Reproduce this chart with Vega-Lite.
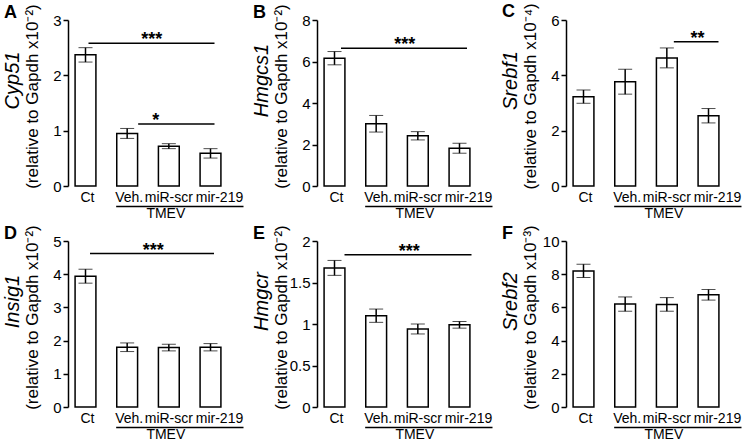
{
  "$schema": "https://vega.github.io/schema/vega-lite/v6.json",
  "padding": {"left": 2, "top": 2, "right": 2, "bottom": 0},
  "config": {
    "font": "Liberation Sans",
    "view": {"stroke": null},
    "axis": {"grid": false, "domainColor": "black", "tickColor": "black", "labelColor": "black", "titleColor": "black", "domainWidth": 1.5, "tickWidth": 1.5},
    "axisX": {"labelFontSize": 14, "labelPadding": 4, "domain": false, "ticks": false, "labelAngle": 0},
    "axisY": {"labelFontSize": 15, "labelPadding": 2, "tickSize": 5},
    "title": {"fontSize": 18, "fontWeight": "bold", "anchor": "start", "frame": "group", "color": "black", "dx": -64, "offset": -18}
  },
  "bounds": "flush",
  "columns": 3,
  "spacing": {"row": 55, "column": 89},
  "concat": [
        {
          "width": 160, "height": 166,
          "title": {"text": "A"},
          "data": {"values": [
            {"group": "Ct", "mean": 2.37, "err": 0.13},
            {"group": "Veh.", "mean": 0.95, "err": 0.09},
            {"group": "miR-scr", "mean": 0.72, "err": 0.045},
            {"group": "mir-219", "mean": 0.59, "err": 0.085}
          ]},
          "layer": [
            {"mark": {"type": "bar", "fill": "white", "stroke": "black", "strokeWidth": 1.5},
             "encoding": {
               "x": {"field": "group", "type": "nominal", "title": null, "scale": {"domain": ["Ct", "Veh.", "miR-scr", "mir-219"], "paddingInner": 0.5, "paddingOuter": 0.17},
                     "axis": {"labelFontSize": 14, "labelOffset": {"condition": [{"test": "datum.value === 'mir-219'", "value": 9}, {"test": "datum.value === 'miR-scr'", "value": 0}], "value": 2}}},
               "y": {"field": "mean", "type": "quantitative", "scale": {"domain": [0, 3]},
                     "axis": {"orient": "left", "values": [0, 1, 2, 3], "format": "~r", "labelFontSize": 15, "title": "(relative to Gapdh x10⁻²)", "titleFontSize": 17, "titleFontWeight": "normal", "titleAngle": -90, "titleX": -31, "titleY": 76, "titleBaseline": "alphabetic", "titleAlign": "center"}}
             }},
            {"mark": {"type": "errorbar", "ticks": {"size": 14, "color": "black", "strokeWidth": 1.5}, "rule": {"color": "black", "strokeWidth": 1.5}},
             "encoding": {
               "x": {"field": "group", "type": "nominal", "title": null},
               "y": {"field": "mean", "type": "quantitative", "axis": null},
               "yError": {"field": "err"}
             }},
            {"data": {"values": [{"from": "Ct", "to": "mir-219", "y": 2.58}]},
             "mark": {"type": "rule", "color": "black", "strokeWidth": 1.5, "xOffset": 3, "x2Offset": 4},
             "encoding": {"x": {"field": "from", "type": "nominal", "title": null}, "x2": {"field": "to"}, "y": {"field": "y", "type": "quantitative", "axis": null}}},
            {"data": {"values": [{"from": "Veh.", "to": "mir-219", "y": 1.12}]},
             "mark": {"type": "rule", "color": "black", "strokeWidth": 1.5, "xOffset": 11, "x2Offset": 4},
             "encoding": {"x": {"field": "from", "type": "nominal", "title": null}, "x2": {"field": "to"}, "y": {"field": "y", "type": "quantitative", "axis": null}}},
            {"data": {"values": [{"at": "miR-scr", "y": 2.58, "label": "***"}]},
             "mark": {"type": "text", "fontSize": 18, "fontWeight": "bold", "baseline": "alphabetic", "dy": 2, "dx": -17, "color": "black"},
             "encoding": {"x": {"field": "at", "type": "nominal", "title": null}, "y": {"field": "y", "type": "quantitative", "axis": null}, "text": {"field": "label"}}},
            {"data": {"values": [{"at": "miR-scr", "y": 1.12, "label": "*"}]},
             "mark": {"type": "text", "fontSize": 18, "fontWeight": "bold", "baseline": "alphabetic", "dy": 2, "dx": -13, "color": "black"},
             "encoding": {"x": {"field": "at", "type": "nominal", "title": null}, "y": {"field": "y", "type": "quantitative", "axis": null}, "text": {"field": "label"}}},
            {"data": {"values": [{"from": "Veh.", "to": "mir-219"}]},
             "mark": {"type": "rule", "color": "black", "strokeWidth": 1.5, "xOffset": -11, "x2Offset": 33, "yOffset": 20.5},
             "encoding": {"x": {"field": "from", "type": "nominal", "title": null}, "x2": {"field": "to"},
                          "y": {"datum": 0, "type": "quantitative", "axis": {"orient": "left", "domain": false, "ticks": false, "labels": false, "title": "Cyp51", "titleFontSize": 20, "titleFontStyle": "italic", "titleFontWeight": "normal", "titleAngle": -90, "titleX": -50, "titleY": 60, "titleBaseline": "alphabetic", "titleAlign": "center"}}}},
            {"data": {"values": [{"at": "miR-scr", "label": "TMEV"}]},
             "mark": {"type": "text", "fontSize": 14, "baseline": "alphabetic", "yOffset": 32, "dx": -3, "color": "black"},
             "encoding": {"x": {"field": "at", "type": "nominal", "title": null}, "y": {"datum": 0, "type": "quantitative", "axis": null}, "text": {"field": "label"}}}
          ],
          "resolve": {"axis": {"y": "independent"}}
        },
        {
          "width": 160, "height": 166,
          "title": {"text": "B"},
          "data": {"values": [
            {"group": "Ct", "mean": 6.16, "err": 0.32},
            {"group": "Veh.", "mean": 3.0, "err": 0.4},
            {"group": "miR-scr", "mean": 2.42, "err": 0.2},
            {"group": "mir-219", "mean": 1.82, "err": 0.24}
          ]},
          "layer": [
            {"mark": {"type": "bar", "fill": "white", "stroke": "black", "strokeWidth": 1.5},
             "encoding": {
               "x": {"field": "group", "type": "nominal", "title": null, "scale": {"domain": ["Ct", "Veh.", "miR-scr", "mir-219"], "paddingInner": 0.5, "paddingOuter": 0.17},
                     "axis": {"labelFontSize": 14, "labelOffset": {"condition": [{"test": "datum.value === 'mir-219'", "value": 9}, {"test": "datum.value === 'miR-scr'", "value": 0}], "value": 2}}},
               "y": {"field": "mean", "type": "quantitative", "scale": {"domain": [0, 8]},
                     "axis": {"orient": "left", "values": [0, 2, 4, 6, 8], "format": "~r", "labelFontSize": 15, "title": "(relative to Gapdh x10⁻²)", "titleFontSize": 17, "titleFontWeight": "normal", "titleAngle": -90, "titleX": -31, "titleY": 76, "titleBaseline": "alphabetic", "titleAlign": "center"}}
             }},
            {"mark": {"type": "errorbar", "ticks": {"size": 14, "color": "black", "strokeWidth": 1.5}, "rule": {"color": "black", "strokeWidth": 1.5}},
             "encoding": {
               "x": {"field": "group", "type": "nominal", "title": null},
               "y": {"field": "mean", "type": "quantitative", "axis": null},
               "yError": {"field": "err"}
             }},
            {"data": {"values": [{"from": "Ct", "to": "mir-219", "y": 6.64}]},
             "mark": {"type": "rule", "color": "black", "strokeWidth": 1.5, "xOffset": 6.5, "x2Offset": 7.5},
             "encoding": {"x": {"field": "from", "type": "nominal", "title": null}, "x2": {"field": "to"}, "y": {"field": "y", "type": "quantitative", "axis": null}}},
            {"data": {"values": [{"at": "miR-scr", "y": 6.64, "label": "***"}]},
             "mark": {"type": "text", "fontSize": 18, "fontWeight": "bold", "baseline": "alphabetic", "dy": 2, "dx": -13, "color": "black"},
             "encoding": {"x": {"field": "at", "type": "nominal", "title": null}, "y": {"field": "y", "type": "quantitative", "axis": null}, "text": {"field": "label"}}},
            {"data": {"values": [{"from": "Veh.", "to": "mir-219"}]},
             "mark": {"type": "rule", "color": "black", "strokeWidth": 1.5, "xOffset": -11, "x2Offset": 33, "yOffset": 20.5},
             "encoding": {"x": {"field": "from", "type": "nominal", "title": null}, "x2": {"field": "to"},
                          "y": {"datum": 0, "type": "quantitative", "axis": {"orient": "left", "domain": false, "ticks": false, "labels": false, "title": "Hmgcs1", "titleFontSize": 20, "titleFontStyle": "italic", "titleFontWeight": "normal", "titleAngle": -90, "titleX": -50, "titleY": 60, "titleBaseline": "alphabetic", "titleAlign": "center"}}}},
            {"data": {"values": [{"at": "miR-scr", "label": "TMEV"}]},
             "mark": {"type": "text", "fontSize": 14, "baseline": "alphabetic", "yOffset": 32, "dx": -3, "color": "black"},
             "encoding": {"x": {"field": "at", "type": "nominal", "title": null}, "y": {"datum": 0, "type": "quantitative", "axis": null}, "text": {"field": "label"}}}
          ],
          "resolve": {"axis": {"y": "independent"}}
        },
        {
          "width": 160, "height": 166,
          "title": {"text": "C"},
          "data": {"values": [
            {"group": "Ct", "mean": 3.23, "err": 0.24},
            {"group": "Veh.", "mean": 3.77, "err": 0.45},
            {"group": "miR-scr", "mean": 4.63, "err": 0.36},
            {"group": "mir-219", "mean": 2.54, "err": 0.26}
          ]},
          "layer": [
            {"mark": {"type": "bar", "fill": "white", "stroke": "black", "strokeWidth": 1.5},
             "encoding": {
               "x": {"field": "group", "type": "nominal", "title": null, "scale": {"domain": ["Ct", "Veh.", "miR-scr", "mir-219"], "paddingInner": 0.5, "paddingOuter": 0.17},
                     "axis": {"labelFontSize": 14, "labelOffset": {"condition": [{"test": "datum.value === 'mir-219'", "value": 9}, {"test": "datum.value === 'miR-scr'", "value": 0}], "value": 2}}},
               "y": {"field": "mean", "type": "quantitative", "scale": {"domain": [0, 6]},
                     "axis": {"orient": "left", "values": [0, 2, 4, 6], "format": "~r", "labelFontSize": 15, "title": "(relative to Gapdh x10⁻⁴)", "titleFontSize": 17, "titleFontWeight": "normal", "titleAngle": -90, "titleX": -31, "titleY": 76, "titleBaseline": "alphabetic", "titleAlign": "center"}}
             }},
            {"mark": {"type": "errorbar", "ticks": {"size": 14, "color": "black", "strokeWidth": 1.5}, "rule": {"color": "black", "strokeWidth": 1.5}},
             "encoding": {
               "x": {"field": "group", "type": "nominal", "title": null},
               "y": {"field": "mean", "type": "quantitative", "axis": null},
               "yError": {"field": "err"}
             }},
            {"data": {"values": [{"from": "miR-scr", "to": "mir-219", "y": 5.21}]},
             "mark": {"type": "rule", "color": "black", "strokeWidth": 1.5, "xOffset": 7, "x2Offset": 10},
             "encoding": {"x": {"field": "from", "type": "nominal", "title": null}, "x2": {"field": "to"}, "y": {"field": "y", "type": "quantitative", "axis": null}}},
            {"data": {"values": [{"at": "mir-219", "y": 5.21, "label": "**"}]},
             "mark": {"type": "text", "fontSize": 18, "fontWeight": "bold", "baseline": "alphabetic", "dy": 2, "dx": -11, "color": "black"},
             "encoding": {"x": {"field": "at", "type": "nominal", "title": null}, "y": {"field": "y", "type": "quantitative", "axis": null}, "text": {"field": "label"}}},
            {"data": {"values": [{"from": "Veh.", "to": "mir-219"}]},
             "mark": {"type": "rule", "color": "black", "strokeWidth": 1.5, "xOffset": -11, "x2Offset": 33, "yOffset": 20.5},
             "encoding": {"x": {"field": "from", "type": "nominal", "title": null}, "x2": {"field": "to"},
                          "y": {"datum": 0, "type": "quantitative", "axis": {"orient": "left", "domain": false, "ticks": false, "labels": false, "title": "Srebf1", "titleFontSize": 20, "titleFontStyle": "italic", "titleFontWeight": "normal", "titleAngle": -90, "titleX": -50, "titleY": 60, "titleBaseline": "alphabetic", "titleAlign": "center"}}}},
            {"data": {"values": [{"at": "miR-scr", "label": "TMEV"}]},
             "mark": {"type": "text", "fontSize": 14, "baseline": "alphabetic", "yOffset": 32, "dx": -3, "color": "black"},
             "encoding": {"x": {"field": "at", "type": "nominal", "title": null}, "y": {"datum": 0, "type": "quantitative", "axis": null}, "text": {"field": "label"}}}
          ],
          "resolve": {"axis": {"y": "independent"}}
        },
        {
          "width": 160, "height": 166,
          "title": {"text": "D"},
          "data": {"values": [
            {"group": "Ct", "mean": 3.94, "err": 0.21},
            {"group": "Veh.", "mean": 1.8, "err": 0.13},
            {"group": "miR-scr", "mean": 1.79, "err": 0.1},
            {"group": "mir-219", "mean": 1.8, "err": 0.11}
          ]},
          "layer": [
            {"mark": {"type": "bar", "fill": "white", "stroke": "black", "strokeWidth": 1.5},
             "encoding": {
               "x": {"field": "group", "type": "nominal", "title": null, "scale": {"domain": ["Ct", "Veh.", "miR-scr", "mir-219"], "paddingInner": 0.5, "paddingOuter": 0.17},
                     "axis": {"labelFontSize": 14, "labelOffset": {"condition": [{"test": "datum.value === 'mir-219'", "value": 9}, {"test": "datum.value === 'miR-scr'", "value": 0}], "value": 2}}},
               "y": {"field": "mean", "type": "quantitative", "scale": {"domain": [0, 5]},
                     "axis": {"orient": "left", "values": [0, 1, 2, 3, 4, 5], "format": "~r", "labelFontSize": 15, "title": "(relative to Gapdh x10⁻²)", "titleFontSize": 17, "titleFontWeight": "normal", "titleAngle": -90, "titleX": -31, "titleY": 76, "titleBaseline": "alphabetic", "titleAlign": "center"}}
             }},
            {"mark": {"type": "errorbar", "ticks": {"size": 14, "color": "black", "strokeWidth": 1.5}, "rule": {"color": "black", "strokeWidth": 1.5}},
             "encoding": {
               "x": {"field": "group", "type": "nominal", "title": null},
               "y": {"field": "mean", "type": "quantitative", "axis": null},
               "yError": {"field": "err"}
             }},
            {"data": {"values": [{"from": "Ct", "to": "mir-219", "y": 4.62}]},
             "mark": {"type": "rule", "color": "black", "strokeWidth": 1.5, "xOffset": 4.5, "x2Offset": 3.5},
             "encoding": {"x": {"field": "from", "type": "nominal", "title": null}, "x2": {"field": "to"}, "y": {"field": "y", "type": "quantitative", "axis": null}}},
            {"data": {"values": [{"at": "miR-scr", "y": 4.62, "label": "***"}]},
             "mark": {"type": "text", "fontSize": 18, "fontWeight": "bold", "baseline": "alphabetic", "dy": 2, "dx": -15.5, "color": "black"},
             "encoding": {"x": {"field": "at", "type": "nominal", "title": null}, "y": {"field": "y", "type": "quantitative", "axis": null}, "text": {"field": "label"}}},
            {"data": {"values": [{"from": "Veh.", "to": "mir-219"}]},
             "mark": {"type": "rule", "color": "black", "strokeWidth": 1.5, "xOffset": -11, "x2Offset": 33, "yOffset": 20.5},
             "encoding": {"x": {"field": "from", "type": "nominal", "title": null}, "x2": {"field": "to"},
                          "y": {"datum": 0, "type": "quantitative", "axis": {"orient": "left", "domain": false, "ticks": false, "labels": false, "title": "Insig1", "titleFontSize": 20, "titleFontStyle": "italic", "titleFontWeight": "normal", "titleAngle": -90, "titleX": -50, "titleY": 60, "titleBaseline": "alphabetic", "titleAlign": "center"}}}},
            {"data": {"values": [{"at": "miR-scr", "label": "TMEV"}]},
             "mark": {"type": "text", "fontSize": 14, "baseline": "alphabetic", "yOffset": 32, "dx": -3, "color": "black"},
             "encoding": {"x": {"field": "at", "type": "nominal", "title": null}, "y": {"datum": 0, "type": "quantitative", "axis": null}, "text": {"field": "label"}}}
          ],
          "resolve": {"axis": {"y": "independent"}}
        },
        {
          "width": 160, "height": 166,
          "title": {"text": "E"},
          "data": {"values": [
            {"group": "Ct", "mean": 1.676, "err": 0.09},
            {"group": "Veh.", "mean": 1.1, "err": 0.08},
            {"group": "miR-scr", "mean": 0.94, "err": 0.06},
            {"group": "mir-219", "mean": 0.99, "err": 0.04}
          ]},
          "layer": [
            {"mark": {"type": "bar", "fill": "white", "stroke": "black", "strokeWidth": 1.5},
             "encoding": {
               "x": {"field": "group", "type": "nominal", "title": null, "scale": {"domain": ["Ct", "Veh.", "miR-scr", "mir-219"], "paddingInner": 0.5, "paddingOuter": 0.17},
                     "axis": {"labelFontSize": 14, "labelOffset": {"condition": [{"test": "datum.value === 'mir-219'", "value": 9}, {"test": "datum.value === 'miR-scr'", "value": 0}], "value": 2}}},
               "y": {"field": "mean", "type": "quantitative", "scale": {"domain": [0, 2]},
                     "axis": {"orient": "left", "values": [0, 0.5, 1, 1.5, 2], "format": "~r", "labelFontSize": 15, "title": "(relative to Gapdh x10⁻²)", "titleFontSize": 17, "titleFontWeight": "normal", "titleAngle": -90, "titleX": -31, "titleY": 76, "titleBaseline": "alphabetic", "titleAlign": "center"}}
             }},
            {"mark": {"type": "errorbar", "ticks": {"size": 14, "color": "black", "strokeWidth": 1.5}, "rule": {"color": "black", "strokeWidth": 1.5}},
             "encoding": {
               "x": {"field": "group", "type": "nominal", "title": null},
               "y": {"field": "mean", "type": "quantitative", "axis": null},
               "yError": {"field": "err"}
             }},
            {"data": {"values": [{"from": "Ct", "to": "mir-219", "y": 1.835}]},
             "mark": {"type": "rule", "color": "black", "strokeWidth": 1.5, "xOffset": 10, "x2Offset": 12},
             "encoding": {"x": {"field": "from", "type": "nominal", "title": null}, "x2": {"field": "to"}, "y": {"field": "y", "type": "quantitative", "axis": null}}},
            {"data": {"values": [{"at": "miR-scr", "y": 1.835, "label": "***"}]},
             "mark": {"type": "text", "fontSize": 18, "fontWeight": "bold", "baseline": "alphabetic", "dy": 2, "dx": -8.5, "color": "black"},
             "encoding": {"x": {"field": "at", "type": "nominal", "title": null}, "y": {"field": "y", "type": "quantitative", "axis": null}, "text": {"field": "label"}}},
            {"data": {"values": [{"from": "Veh.", "to": "mir-219"}]},
             "mark": {"type": "rule", "color": "black", "strokeWidth": 1.5, "xOffset": -11, "x2Offset": 33, "yOffset": 20.5},
             "encoding": {"x": {"field": "from", "type": "nominal", "title": null}, "x2": {"field": "to"},
                          "y": {"datum": 0, "type": "quantitative", "axis": {"orient": "left", "domain": false, "ticks": false, "labels": false, "title": "Hmgcr", "titleFontSize": 20, "titleFontStyle": "italic", "titleFontWeight": "normal", "titleAngle": -90, "titleX": -50, "titleY": 60, "titleBaseline": "alphabetic", "titleAlign": "center"}}}},
            {"data": {"values": [{"at": "miR-scr", "label": "TMEV"}]},
             "mark": {"type": "text", "fontSize": 14, "baseline": "alphabetic", "yOffset": 32, "dx": -3, "color": "black"},
             "encoding": {"x": {"field": "at", "type": "nominal", "title": null}, "y": {"datum": 0, "type": "quantitative", "axis": null}, "text": {"field": "label"}}}
          ],
          "resolve": {"axis": {"y": "independent"}}
        },
        {
          "width": 160, "height": 166,
          "title": {"text": "F"},
          "data": {"values": [
            {"group": "Ct", "mean": 8.2, "err": 0.4},
            {"group": "Veh.", "mean": 6.2, "err": 0.43},
            {"group": "miR-scr", "mean": 6.18, "err": 0.41},
            {"group": "mir-219", "mean": 6.76, "err": 0.32}
          ]},
          "layer": [
            {"mark": {"type": "bar", "fill": "white", "stroke": "black", "strokeWidth": 1.5},
             "encoding": {
               "x": {"field": "group", "type": "nominal", "title": null, "scale": {"domain": ["Ct", "Veh.", "miR-scr", "mir-219"], "paddingInner": 0.5, "paddingOuter": 0.17},
                     "axis": {"labelFontSize": 14, "labelOffset": {"condition": [{"test": "datum.value === 'mir-219'", "value": 9}, {"test": "datum.value === 'miR-scr'", "value": 0}], "value": 2}}},
               "y": {"field": "mean", "type": "quantitative", "scale": {"domain": [0, 10]},
                     "axis": {"orient": "left", "values": [0, 2, 4, 6, 8, 10], "format": "~r", "labelFontSize": 15, "title": "(relative to Gapdh x10⁻³)", "titleFontSize": 17, "titleFontWeight": "normal", "titleAngle": -90, "titleX": -31, "titleY": 76, "titleBaseline": "alphabetic", "titleAlign": "center"}}
             }},
            {"mark": {"type": "errorbar", "ticks": {"size": 14, "color": "black", "strokeWidth": 1.5}, "rule": {"color": "black", "strokeWidth": 1.5}},
             "encoding": {
               "x": {"field": "group", "type": "nominal", "title": null},
               "y": {"field": "mean", "type": "quantitative", "axis": null},
               "yError": {"field": "err"}
             }},
            {"data": {"values": [{"from": "Veh.", "to": "mir-219"}]},
             "mark": {"type": "rule", "color": "black", "strokeWidth": 1.5, "xOffset": -11, "x2Offset": 33, "yOffset": 20.5},
             "encoding": {"x": {"field": "from", "type": "nominal", "title": null}, "x2": {"field": "to"},
                          "y": {"datum": 0, "type": "quantitative", "axis": {"orient": "left", "domain": false, "ticks": false, "labels": false, "title": "Srebf2", "titleFontSize": 20, "titleFontStyle": "italic", "titleFontWeight": "normal", "titleAngle": -90, "titleX": -50, "titleY": 60, "titleBaseline": "alphabetic", "titleAlign": "center"}}}},
            {"data": {"values": [{"at": "miR-scr", "label": "TMEV"}]},
             "mark": {"type": "text", "fontSize": 14, "baseline": "alphabetic", "yOffset": 32, "dx": -3, "color": "black"},
             "encoding": {"x": {"field": "at", "type": "nominal", "title": null}, "y": {"datum": 0, "type": "quantitative", "axis": null}, "text": {"field": "label"}}}
          ],
          "resolve": {"axis": {"y": "independent"}}
        }
  ]
}
